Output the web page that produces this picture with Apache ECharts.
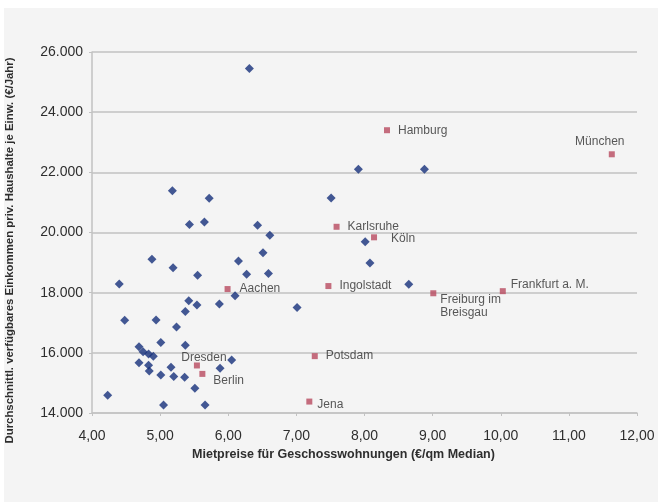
<!DOCTYPE html>
<html>
<head>
<meta charset="utf-8">
<script src="https://cdn.jsdelivr.net/npm/echarts@6/dist/echarts.min.js"></script>
<style>
    html, body { margin: 0; padding: 0; background: #ffffff; }
    #bg { position: absolute; left: 4px; top: 8px; width: 654px; height: 494px; background: #f4f4f4; }
    #chart { position: absolute; left: 0; top: 0; width: 658px; height: 502px; }
</style>
</head>
<body>
<div id="bg"></div>
<div id="chart"></div>
<script>
    // other cities (blue diamonds): rent €/qm, income €/year
    const otherRent = [4.88, 5.19, 5.55, 6.15, 6.27, 4.40, 6.10, 5.42, 5.54, 5.87,
        5.37, 4.48, 4.94, 5.24, 5.01, 5.37, 4.69, 4.75, 4.83, 4.90,
        6.05, 4.69, 4.83, 4.84, 5.16, 5.88, 5.01, 5.20, 5.36, 5.51,
        4.23, 5.05, 5.66, 5.18, 5.72, 5.43, 5.65, 6.43, 6.61, 6.51,
        6.59, 6.31, 7.91, 8.88, 7.51, 8.01, 8.08, 8.65, 7.01];
    const otherIncome = [19110, 18830, 18580, 19050, 18610, 18290, 17900, 17730, 17590, 17620,
        17370, 17080, 17090, 16860, 16340, 16250, 16200, 16040, 15960, 15890,
        15760, 15670, 15590, 15400, 15520, 15490, 15260, 15210, 15190, 14820,
        14590, 14270, 14270, 21390, 21140, 20270, 20350, 20240, 19910, 19330,
        18640, 25450, 22100, 22100, 21150, 19690, 18990, 18280, 17510];

    // named cities (red squares)
    const cityNames = ['Hamburg', 'München', 'Karlsruhe', 'Köln', 'Ingolstadt', 'Freiburg im\nBreisgau',
        'Frankfurt a. M.', 'Aachen', 'Dresden', 'Berlin', 'Potsdam', 'Jena'];
    const cityRent = [8.33, 11.63, 7.59, 8.14, 7.47, 9.01, 10.03, 5.99, 5.54, 5.62, 7.27, 7.19];
    const cityIncome = [23400, 22600, 20190, 19840, 18220, 17980, 18050, 18120, 15580, 15300, 15890, 14380];

    // label placement per city
    const labelStyle = {
        'Hamburg': {position: 'right', distance: 8},
        'München': {position: 'top', distance: 4, offset: [-12, 0]},
        'Karlsruhe': {position: 'right', distance: 8},
        'Köln': {position: 'right', distance: 14, offset: [0, 1]},
        'Ingolstadt': {position: 'right', distance: 8},
        'Freiburg im\nBreisgau': {position: 'right', distance: 4, offset: [0, 13], lineHeight: 13},
        'Frankfurt a. M.': {position: 'right', distance: 5, offset: [0, -6]},
        'Aachen': {position: 'right', distance: 9},
        'Dresden': {position: 'inside', offset: [7, -8]},
        'Berlin': {position: 'right', distance: 8, offset: [0, 7]},
        'Potsdam': {position: 'right', distance: 8},
        'Jena': {position: 'right', distance: 5, offset: [0, 3]}
    };

    const chart = echarts.init(document.getElementById('chart'));
    const gridColor = '#c2c2c2';
    const textColor = '#2e2e2e';

    chart.setOption({
        backgroundColor: 'transparent',
        animation: false,
        textStyle: {fontFamily: 'Liberation Sans, Arial, sans-serif'},
        grid: {left: 92, right: 21, top: 52, bottom: 89, containLabel: false, outerBoundsMode: 'none'},
        xAxis: {
            type: 'value', min: 4, max: 12, interval: 1,
            name: 'Mietpreise für Geschosswohnungen (€/qm Median)',
            nameLocation: 'middle', nameGap: 35,
            nameTextStyle: {fontSize: 12.5, fontWeight: 'bold', color: textColor, padding: [0, 42, 0, 0]},
            axisLine: {lineStyle: {color: gridColor, width: 1.5}},
            axisTick: {show: true, length: 3, lineStyle: {color: gridColor}},
            axisLabel: {
                fontSize: 14, color: textColor, margin: 16,
                formatter: v => v.toFixed(2).replace('.', ',')
            },
            splitLine: {show: false}
        },
        yAxis: {
            type: 'value', min: 14000, max: 26000, interval: 2000,
            name: 'Durchschnittl. verfügbares Einkommen priv. Haushalte je Einw. (€/Jahr)',
            nameLocation: 'middle', nameGap: 77,
            nameTextStyle: {fontSize: 11.4, fontWeight: 'bold', color: textColor, padding: [0, 36, 0, 0]},
            axisLine: {show: true, lineStyle: {color: gridColor, width: 1.5}},
            axisTick: {show: true, length: 3, lineStyle: {color: gridColor}},
            axisLabel: {
                fontSize: 14, color: textColor, margin: 9,
                formatter: v => v.toLocaleString('de-DE')
            },
            splitLine: {lineStyle: {color: gridColor, width: 1.5}}
        },
        series: [
            {
                type: 'scatter', symbol: 'diamond', symbolSize: 9,
                itemStyle: {color: '#15307a'},
                data: otherRent.map((r, i) => [r, otherIncome[i]])
            },
            {
                type: 'scatter', symbol: 'rect', symbolSize: 6,
                itemStyle: {color: '#b84a5f'},
                label: {show: true, formatter: p => p.name, fontSize: 12, color: textColor},
                data: cityNames.map((n, i) => ({
                    name: n,
                    value: [cityRent[i], cityIncome[i]],
                    label: labelStyle[n]
                }))
            }
        ]
    });
</script>
</body>
</html>
